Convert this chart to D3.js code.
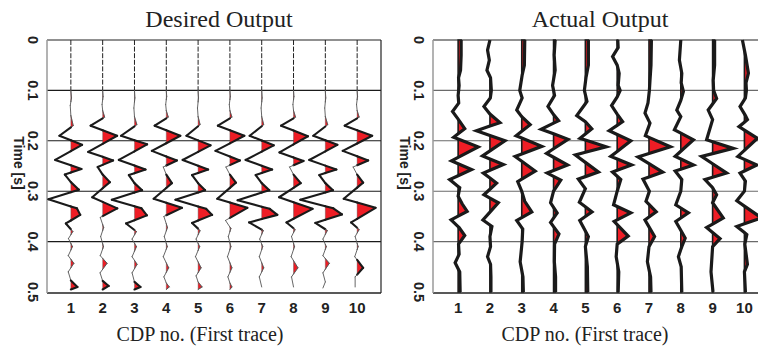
<!DOCTYPE html>
<html>
<head>
<meta charset="utf-8">
<script src="https://cdn.jsdelivr.net/npm/d3@7"></script>
<style>
  body { margin: 0; background: #fff; }
  svg { display: block; }
</style>
</head>
<body>
<div id="chart"></div>
<script>
// CDP numbers and time ticks
var cdps = [1, 2, 3, 4, 5, 6, 7, 8, 9, 10];
var timeTicks = [0, 0.1, 0.2, 0.3, 0.4, 0.5];

// wiggle traces, each a list of [time (s), amplitude]
var desiredTraces = [
  [[0,0],[0.1,0],[0.115,0.03],[0.13,-0.03],[0.15,0],[0.17,0.12],[0.19,-0.57],[0.208,0.56],[0.238,-0.78],[0.256,0.53],[0.267,-0.3],[0.282,0],[0.297,0.4],[0.316,-1.12],[0.334,0.3],[0.347,0.47],[0.364,-0.25],[0.38,0.1],[0.394,-0.12],[0.41,0.08],[0.428,-0.13],[0.443,0.15],[0.46,-0.13],[0.477,0],[0.49,0.33],[0.495,0]],
  [[0,0],[0.1,0],[0.112,0.02],[0.128,-0.03],[0.14,0],[0.153,0.1],[0.17,-0.6],[0.19,0.72],[0.222,-0.72],[0.239,0.52],[0.252,-0.25],[0.267,0],[0.282,0.36],[0.312,-0.52],[0.334,0.73],[0.352,-0.12],[0.372,0.05],[0.39,-0.1],[0.41,0.04],[0.428,-0.12],[0.443,0.22],[0.462,-0.13],[0.478,0],[0.488,0.3],[0.495,0]],
  [[0,0],[0.1,0],[0.115,0.02],[0.135,-0.03],[0.152,0],[0.168,0.12],[0.19,-0.67],[0.207,0.63],[0.238,-0.78],[0.257,0.55],[0.268,-0.28],[0.284,0],[0.298,0.38],[0.317,-1.13],[0.334,0.35],[0.348,0.62],[0.364,-0.42],[0.38,0.1],[0.395,-0.12],[0.41,0.1],[0.43,-0.12],[0.445,0.13],[0.462,-0.12],[0.48,0],[0.49,0.3],[0.495,0]],
  [[0,0],[0.1,0],[0.112,0.02],[0.128,-0.03],[0.14,0],[0.153,0.1],[0.17,-0.58],[0.19,0.7],[0.22,-0.72],[0.239,0.53],[0.252,-0.15],[0.267,0],[0.284,0.28],[0.315,-0.63],[0.333,0.78],[0.35,-0.12],[0.372,0.06],[0.39,-0.1],[0.41,0.05],[0.43,-0.15],[0.452,0.12],[0.47,-0.12],[0.482,0],[0.49,0.15],[0.495,0]],
  [[0,0],[0.1,0],[0.115,0.02],[0.135,-0.03],[0.152,0],[0.168,0.1],[0.19,-0.58],[0.209,0.62],[0.238,-0.77],[0.257,0.5],[0.268,-0.3],[0.284,0],[0.298,0.35],[0.317,-1.13],[0.335,0.4],[0.347,0.7],[0.363,-0.3],[0.378,0.1],[0.395,-0.1],[0.41,0.08],[0.43,-0.13],[0.452,0.15],[0.468,-0.1],[0.48,0],[0.49,0.2],[0.495,0]],
  [[0,0],[0.1,0],[0.112,0.02],[0.128,-0.03],[0.14,0],[0.153,0.1],[0.17,-0.6],[0.19,0.72],[0.22,-0.72],[0.239,0.5],[0.252,-0.2],[0.267,0],[0.283,0.3],[0.315,-0.63],[0.333,0.87],[0.358,-0.22],[0.374,0.05],[0.39,-0.08],[0.41,0.05],[0.43,-0.12],[0.452,0.1],[0.47,-0.1],[0.482,0],[0.49,0.1],[0.495,0]],
  [[0,0],[0.1,0],[0.115,0.02],[0.135,-0.03],[0.152,0],[0.168,0.1],[0.19,-0.6],[0.209,0.6],[0.238,-0.8],[0.257,0.52],[0.268,-0.3],[0.284,0],[0.298,0.38],[0.318,-1.2],[0.335,0.4],[0.347,0.78],[0.362,-0.63],[0.378,0.08],[0.395,-0.1],[0.41,0.05],[0.43,-0.12],[0.452,0.1],[0.47,-0.12],[0.49,0]],
  [[0,0],[0.1,0],[0.112,0.02],[0.128,-0.03],[0.14,0],[0.153,0.1],[0.17,-0.62],[0.191,0.72],[0.223,-0.7],[0.24,0.5],[0.252,-0.2],[0.267,0],[0.284,0.36],[0.312,-0.72],[0.335,0.95],[0.362,-0.35],[0.376,0.08],[0.39,-0.1],[0.41,0.05],[0.43,-0.12],[0.452,0.22],[0.47,-0.1],[0.49,0]],
  [[0,0],[0.1,0],[0.115,0.02],[0.135,-0.03],[0.152,0],[0.168,0.12],[0.19,-0.6],[0.208,0.6],[0.238,-0.8],[0.257,0.55],[0.268,-0.3],[0.284,0],[0.298,0.38],[0.317,-1.25],[0.334,0.4],[0.346,0.83],[0.363,-0.5],[0.378,0.1],[0.395,-0.12],[0.41,0.05],[0.428,-0.12],[0.443,0.2],[0.462,-0.12],[0.48,0],[0.492,-0.12]],
  [[0,0],[0.1,0],[0.112,0.02],[0.128,-0.03],[0.14,0],[0.153,0.1],[0.17,-0.62],[0.19,0.75],[0.22,-0.72],[0.239,0.55],[0.252,-0.2],[0.267,0],[0.283,0.3],[0.315,-0.67],[0.333,0.92],[0.362,-0.3],[0.376,0.1],[0.39,-0.1],[0.41,0.05],[0.43,-0.12],[0.452,0.3],[0.47,-0.1],[0.49,-0.1]]
];

var actualTraces = [
  [[0,0.15],[0.03,0.15],[0.06,0.12],[0.075,0.02],[0.09,0.05],[0.11,0],[0.125,0.03],[0.142,-0.28],[0.157,0],[0.176,0.33],[0.193,-0.22],[0.212,1.0],[0.24,-0.33],[0.257,0.67],[0.277,-0.42],[0.293,0.08],[0.31,0],[0.325,0.2],[0.34,0.45],[0.357,-0.35],[0.372,0.05],[0.388,0.33],[0.405,0.02],[0.425,0.05],[0.442,-0.15],[0.46,0.08],[0.5,0.1]],
  [[0,0],[0.02,-0.12],[0.04,-0.03],[0.06,-0.15],[0.075,0.03],[0.1,0.07],[0.115,0.02],[0.132,-0.3],[0.147,0],[0.164,0.5],[0.18,-0.67],[0.2,0.75],[0.23,-0.37],[0.247,0.67],[0.264,-0.33],[0.284,0.33],[0.307,-0.3],[0.323,0.42],[0.357,-0.35],[0.37,0.1],[0.39,0],[0.41,0.03],[0.43,-0.12],[0.445,0.03],[0.47,0.05],[0.5,0.05]],
  [[0,0.15],[0.05,0.13],[0.07,0.02],[0.1,-0.1],[0.115,0.02],[0.139,-0.25],[0.152,0],[0.168,0.42],[0.19,-0.28],[0.211,1.0],[0.231,-0.33],[0.26,0.67],[0.281,-0.2],[0.3,0],[0.32,0.15],[0.341,0.5],[0.358,-0.25],[0.375,0.05],[0.4,0.02],[0.44,-0.08],[0.47,0.06],[0.5,0.08]],
  [[0,0.08],[0.03,0.03],[0.06,0.08],[0.09,-0.05],[0.11,0.05],[0.132,-0.28],[0.148,0],[0.16,0.25],[0.177,-0.62],[0.197,0.72],[0.225,-0.35],[0.248,0.7],[0.264,-0.32],[0.278,0.36],[0.3,0],[0.323,-0.15],[0.343,0.18],[0.362,-0.15],[0.385,0.27],[0.405,0.05],[0.44,0.04],[0.47,0.1],[0.5,0.1]],
  [[0,0.15],[0.05,0.15],[0.075,0.03],[0.1,-0.05],[0.122,0.08],[0.15,-0.43],[0.162,0],[0.176,0.32],[0.195,-0.27],[0.212,1.04],[0.228,-0.5],[0.262,0.65],[0.276,-0.35],[0.295,0],[0.322,-0.3],[0.341,0.33],[0.358,-0.28],[0.39,0.15],[0.41,0],[0.45,0.1],[0.5,0.12]],
  [[0,0.03],[0.015,0.05],[0.033,-0.23],[0.05,0],[0.066,0.1],[0.09,0.05],[0.1,0.15],[0.113,0],[0.13,-0.28],[0.147,0],[0.162,0.27],[0.18,-0.4],[0.2,0.68],[0.231,-0.32],[0.248,0.72],[0.262,-0.23],[0.277,0.18],[0.3,0],[0.327,-0.18],[0.343,0.68],[0.36,-0.15],[0.389,0.55],[0.405,0],[0.43,-0.05],[0.46,0.08],[0.5,0.05]],
  [[0,0.12],[0.05,0.1],[0.08,0.05],[0.1,0.02],[0.125,-0.05],[0.145,-0.2],[0.165,0.05],[0.19,-0.18],[0.212,1.07],[0.232,-0.55],[0.262,0.68],[0.276,-0.3],[0.3,0.02],[0.32,-0.15],[0.341,0.36],[0.357,-0.2],[0.39,0.28],[0.41,0],[0.44,-0.08],[0.47,0.08],[0.5,0.1]],
  [[0,0],[0.04,-0.07],[0.066,0.05],[0.085,0.02],[0.102,0.13],[0.12,0],[0.139,-0.2],[0.152,0],[0.178,-0.32],[0.198,0.63],[0.231,-0.28],[0.248,0.63],[0.26,-0.28],[0.277,0.05],[0.3,0],[0.327,-0.25],[0.343,0.38],[0.36,-0.25],[0.393,0.22],[0.41,0.05],[0.43,-0.12],[0.45,0.02],[0.5,0.05]],
  [[0,0.1],[0.05,0.1],[0.08,0.03],[0.1,0.05],[0.116,0.2],[0.139,-0.22],[0.158,0],[0.198,-0.3],[0.215,1.03],[0.231,-0.55],[0.264,0.7],[0.277,-0.38],[0.293,0],[0.307,0.2],[0.323,0],[0.353,0.53],[0.372,-0.3],[0.394,0.37],[0.41,0],[0.46,-0.08],[0.5,0.02]],
  [[0,-0.1],[0.03,0.05],[0.066,0.2],[0.085,0.08],[0.1,0.1],[0.115,0.05],[0.132,-0.22],[0.15,0.05],[0.158,0.15],[0.172,-0.27],[0.195,0.65],[0.231,-0.33],[0.248,0.62],[0.264,-0.22],[0.28,0.05],[0.3,0],[0.319,-0.38],[0.353,0.85],[0.37,-0.38],[0.386,0.12],[0.405,0.02],[0.445,0.15],[0.46,0],[0.5,0.05]]
];

var width = 758, height = 349;
var gain = 0.63; // trace spacings per unit amplitude
var red = "#ee1d25";

var svg = d3.select("#chart").append("svg")
  .attr("width", width)
  .attr("height", height);

var y = d3.scaleLinear().domain([0, 0.5]).range([40, 292]);

var panels = [
  {title: "Desired Output", traces: desiredTraces, left: 47, right: 381, domain: [0.25, 10.75],
   titleX: 219, labelX: 200, thin: true, grid: "#1a1a1a"},
  {title: "Actual Output", traces: actualTraces, left: 433, right: 767, domain: [0.21, 10.71],
   titleX: 600, labelX: 585, thin: false, grid: "#6a6a6a"}
];

// insert zero crossings so the positive lobes can be filled exactly
function withCrossings(pts){
  var out = [pts[0]];
  for(var i = 1; i < pts.length; i++){
    var a0 = pts[i-1][1], a1 = pts[i][1];
    if(a0 * a1 < 0){
      var tc = pts[i-1][0] + (pts[i][0] - pts[i-1][0]) * a0 / (a0 - a1);
      out.push([tc, 0]);
    }
    out.push(pts[i]);
  }
  return out;
}

function positiveLobes(pts){
  var lobes = [], cur = null;
  pts.forEach(function(p, i){
    if(p[1] > 0){
      if(!cur){ cur = [i > 0 ? pts[i-1] : [p[0], 0]]; }
      cur.push(p);
    } else if(cur){
      cur.push(p); lobes.push(cur); cur = null;
    }
  });
  if(cur){ cur.push([cur[cur.length-1][0], 0]); lobes.push(cur); }
  return lobes;
}

var sans = "'Liberation Sans', Arial, sans-serif";
var serif = "'Liberation Serif', 'Times New Roman', serif";

panels.forEach(function(p){
  var x = d3.scaleLinear().domain(p.domain).range([p.left, p.right]);
  var g = svg.append("g");

  // grid lines at the inner time ticks
  g.selectAll(".grid")
    .data(timeTicks.slice(1, -1))
    .enter().append("line")
    .attr("x1", p.left).attr("x2", p.right)
    .attr("y1", function(d){ return y(d); })
    .attr("y2", function(d){ return y(d); })
    .style("stroke", p.grid)
    .style("stroke-width", 1.1);

  // frame
  g.append("line").attr("x1", p.left).attr("x2", p.right).attr("y1", y(0)).attr("y2", y(0))
    .style("stroke", "#222").style("stroke-width", 1.2);
  g.append("line").attr("x1", p.left).attr("x2", p.right).attr("y1", y(0.5) + 1).attr("y2", y(0.5) + 1)
    .style("stroke", "#222").style("stroke-width", 1.6);
  g.append("line").attr("x1", p.right).attr("x2", p.right).attr("y1", y(0)).attr("y2", y(0.5) + 1)
    .style("stroke", "#222").style("stroke-width", 1.2);
  g.append("line").attr("x1", p.left).attr("x2", p.left).attr("y1", y(0)).attr("y2", y(0.5) + 1)
    .style("stroke", "#9a9a9a").style("stroke-width", 1.5);

  // traces
  p.traces.forEach(function(tr, k){
    var c = cdps[k];
    var pts = withCrossings(tr);
    var xa = function(d){ return x(c + d[1] * gain); };
    var area = d3.area().x0(x(c)).x1(xa).y(function(d){ return y(d[0]); });
    var line = d3.line().x(xa).y(function(d){ return y(d[0]); });

    g.selectAll(null)
      .data(positiveLobes(pts))
      .enter().append("path")
      .attr("d", area)
      .style("fill", red)
      .style("stroke", p.thin ? "#555" : "#1a1a1a")
      .style("stroke-width", p.thin ? 0.4 : 1.6)
      .style("stroke-linejoin", "miter");

    if(p.thin){
      var quiet = pts.filter(function(d){ return d[0] <= 0.1; });
      var rest = pts.slice(quiet.length - 1);
      g.append("path")
        .attr("d", line(quiet))
        .style("fill", "none")
        .style("stroke", "#222")
        .style("stroke-width", 1)
        .style("stroke-dasharray", "5,1.6");
      // weak parts of the wiggle are drawn with a thinner pen
      var segs = d3.pairs(rest);
      g.selectAll(null)
        .data(segs)
        .enter().append("path")
        .attr("d", line)
        .style("fill", "none")
        .style("stroke", function(s){ return Math.max(Math.abs(s[0][1]), Math.abs(s[1][1])) > 0.22 ? "#1a1a1a" : "#555"; })
        .style("stroke-width", function(s){ return Math.max(Math.abs(s[0][1]), Math.abs(s[1][1])) > 0.22 ? 2.1 : 0.9; })
        .style("stroke-linecap", "round");
    } else {
      g.append("path")
        .attr("d", line(pts))
        .style("fill", "none")
        .style("stroke", "#1a1a1a")
        .style("stroke-width", 3.2)
        .style("stroke-linejoin", "miter");
    }
  });

  // time tick labels, rotated
  g.selectAll(".ytick")
    .data(timeTicks)
    .enter().append("text")
    .attr("transform", function(d){ return "translate(" + (p.left - 19) + "," + y(d) + ") rotate(90)"; })
    .attr("text-anchor", "middle")
    .style("font-family", sans)
    .style("font-weight", "bold")
    .style("font-size", "14.5px")
    .style("fill", "#222")
    .text(function(d){ return d3.format("~g")(d); });

  g.append("text")
    .attr("transform", "translate(" + (p.left - 33) + "," + 163 + ") rotate(90)")
    .attr("text-anchor", "middle")
    .style("font-family", sans)
    .style("font-weight", "bold")
    .style("font-size", "14px")
    .style("fill", "#222")
    .text("Time [s]");

  // CDP tick labels
  g.selectAll(".xtick")
    .data(cdps)
    .enter().append("text")
    .attr("x", function(d){ return x(d); })
    .attr("y", 313)
    .attr("text-anchor", "middle")
    .style("font-family", sans)
    .style("font-weight", "bold")
    .style("font-size", "15px")
    .style("fill", "#222")
    .text(function(d){ return d; });

  g.append("text")
    .attr("x", p.labelX).attr("y", 341)
    .attr("text-anchor", "middle")
    .style("font-family", serif)
    .style("font-size", "20px")
    .style("fill", "#222")
    .text("CDP no. (First trace)");

  g.append("text")
    .attr("x", p.titleX).attr("y", 27)
    .attr("text-anchor", "middle")
    .style("font-family", serif)
    .style("font-size", "24px")
    .style("fill", "#222")
    .text(p.title);
});
</script>
</body>
</html>
